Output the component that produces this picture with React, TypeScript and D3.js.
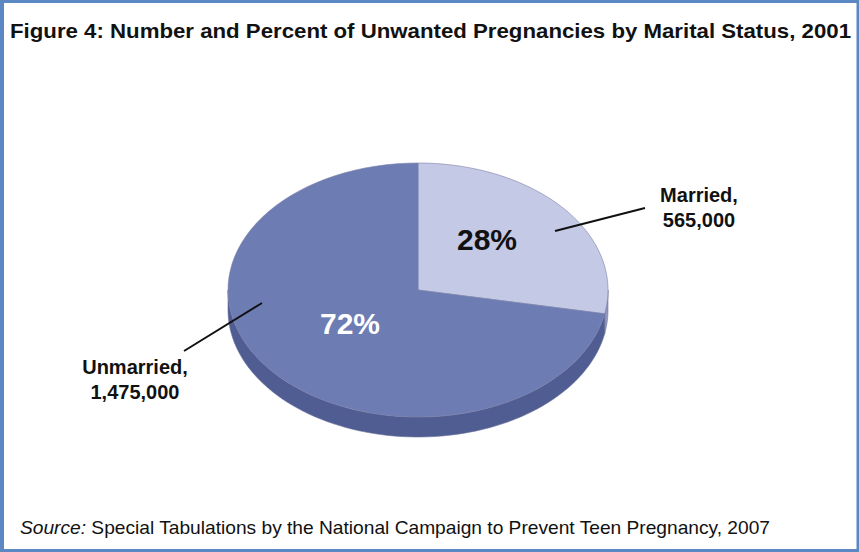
import React from "react";
import * as d3 from "d3";

const categories = ["Married", "Unmarried"];
const counts = ["565,000", "1,475,000"];
const percents = [28, 72];
const topColors = ["#c4c9e5", "#6d7db4"];
const sideColors = ["#9299c0", "#4f5d93"];

const W = 859, H = 552;
const cx = 418, cy = 290, rx = 190, ry = 127, depth = 20;

function pt(theta: number, dy = 0): [number, number] {
  return [cx + rx * Math.sin(theta), cy - ry * Math.cos(theta) + dy];
}

function topPath(a0: number, a1: number) {
  const p = d3.path();
  p.moveTo(cx, cy);
  const n = 80;
  for (let i = 0; i <= n; i++) {
    const t = a0 + ((a1 - a0) * i) / n;
    const [x, y] = pt(t);
    p.lineTo(x, y);
  }
  p.closePath();
  return p.toString();
}

function sidePath(a0: number, a1: number) {
  const s = Math.max(a0, Math.PI / 2);
  const e = Math.min(a1, (3 * Math.PI) / 2);
  if (e <= s) return null;
  const p = d3.path();
  const n = 80;
  for (let i = 0; i <= n; i++) {
    const t = s + ((e - s) * i) / n;
    const [x, y] = pt(t);
    if (i === 0) p.moveTo(x, y);
    else p.lineTo(x, y);
  }
  for (let i = n; i >= 0; i--) {
    const t = s + ((e - s) * i) / n;
    const [x, y] = pt(t, depth);
    p.lineTo(x, y);
  }
  p.closePath();
  return p.toString();
}

export default function App() {
  const pie = d3.pie<number>().sort(null).value((d) => d)(percents);
  const font = "'Liberation Sans', Arial, sans-serif";
  return (
    <svg width={W} height={H} style={{ position: "absolute", left: 0, top: 0 }}>
      <rect x={0} y={0} width={W} height={H} fill="#ffffff" />
      <text
        x={10}
        y={38}
        fontFamily={font}
        fontWeight="bold"
        fontSize={21}
        textLength={841}
        lengthAdjust="spacingAndGlyphs"
        fill="#111"
      >
        Figure 4: Number and Percent of Unwanted Pregnancies by Marital Status, 2001
      </text>
      {pie.map((d, i) => {
        const sp = sidePath(d.startAngle, d.endAngle);
        return sp ? (
          <path key={"s" + i} d={sp} fill={sideColors[i]} stroke="#6a7099" strokeWidth={0.6} />
        ) : null;
      })}
      {pie.map((d, i) => (
        <path
          key={"t" + i}
          d={topPath(d.startAngle, d.endAngle)}
          fill={topColors[i]}
          stroke="#7a80a8"
          strokeWidth={0.6}
        />
      ))}
      <text x={487} y={250} textAnchor="middle" fontFamily={font} fontWeight="bold" fontSize={30} fill="#111">
        {percents[0]}%
      </text>
      <text x={350} y={334} textAnchor="middle" fontFamily={font} fontWeight="bold" fontSize={30} fill="#ffffff">
        {percents[1]}%
      </text>
      <line x1={555} y1={231} x2={645} y2={208} stroke="#111" strokeWidth={2} />
      <line x1={262} y1={303} x2={184} y2={351} stroke="#111" strokeWidth={2} />
      <text textAnchor="middle" fontFamily={font} fontWeight="bold" fontSize={20} fill="#111">
        <tspan x={699} y={202}>{categories[0]},</tspan>
        <tspan x={699} y={227}>{counts[0]}</tspan>
      </text>
      <text textAnchor="middle" fontFamily={font} fontWeight="bold" fontSize={20} fill="#111">
        <tspan x={135} y={374}>{categories[1]},</tspan>
        <tspan x={135} y={399}>{counts[1]}</tspan>
      </text>
      <text x={20} y={534} fontFamily={font} fontSize={18.5} fill="#111" textLength={750} lengthAdjust="spacingAndGlyphs">
        <tspan fontStyle="italic">Source:</tspan> Special Tabulations by the National Campaign to Prevent Teen Pregnancy, 2007
      </text>
      <rect x={2} y={1.5} width={W - 3} height={H - 3} fill="none" stroke="#5b87c2" strokeWidth={3} />
      <rect x={0} y={0} width={4} height={H} fill="#5b87c2" />
    </svg>
  );
}
